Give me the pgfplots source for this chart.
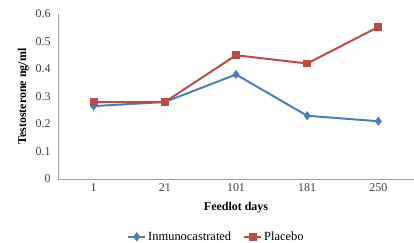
\documentclass[border=0pt]{standalone}
\usepackage{pgfplots}
\pgfplotsset{compat=1.18}
\usepackage{fontspec}
\setmainfont{Liberation Serif}
\definecolor{cblue}{HTML}{4A7EBB}
\definecolor{cred}{HTML}{BE4B48}
\definecolor{axgray}{HTML}{A0A0A0}
\begin{document}
\begin{tikzpicture}
\path[use as bounding box] (-58bp,-64bp) rectangle (356bp,179bp);
\begin{axis}[
  at={(0,0)}, anchor=south west,
  scale only axis,
  width=356bp, height=165bp,
  xmin=-0.5, xmax=4.5,
  ymin=0, ymax=0.6,
  xtick={0,1,2,3,4},
  xticklabels={1,21,101,181,250},
  ytick={0,0.1,0.2,0.3,0.4,0.5,0.6},
  yticklabels={0,0.1,0.2,0.3,0.4,0.5,0.6},
  axis x line*=bottom,
  axis y line*=left,
  axis line style={axgray, thin},
  x axis line style={-},
  y axis line style={-},
  major tick length=0pt,
  tick label style={font=\fontsize{12}{13}\selectfont, text=black!75},
  xticklabel style={yshift=-1bp},
  yticklabel style={xshift=-4bp},
  xlabel={\textbf{Feedlot days}},
  ylabel={\textbf{Testosterone ng/ml}},
  label style={font=\fontsize{12}{13}\selectfont},
  xlabel style={yshift=-4bp},
  ylabel style={yshift=0bp},
  legend style={at={(0.445,-0.35)}, anchor=center, draw=none, legend columns=2,
    font=\fontsize{12.5}{13}\selectfont, /tikz/every even column/.append style={column sep=10bp}},
]
\addplot[cblue, line width=2pt, mark=diamond*, mark size=3pt] coordinates {
(0,0.265) (1,0.28) (2,0.38) (3,0.23) (4,0.21)};
\addlegendentry{Inmunocastrated}
\addplot[cred, line width=2pt, mark=square*, mark size=3pt] coordinates {
(0,0.28) (1,0.28) (2,0.45) (3,0.42) (4,0.553)};
\addlegendentry{Placebo}
\end{axis}
\end{tikzpicture}
\end{document}
